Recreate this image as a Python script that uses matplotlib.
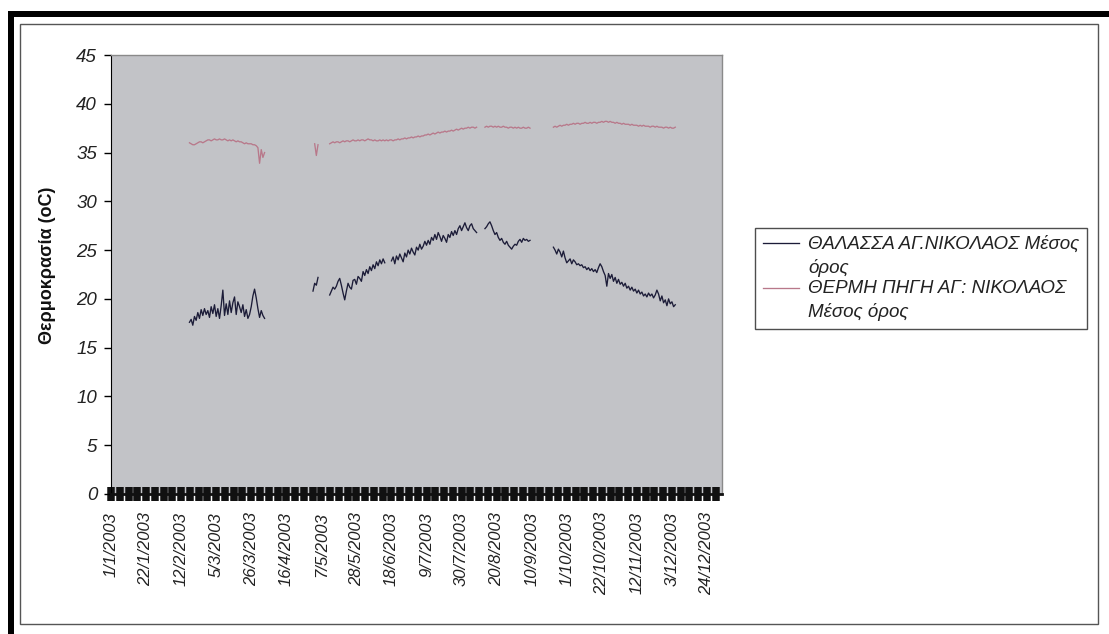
import numpy as np
import pandas as pd
import matplotlib
matplotlib.use("Agg")
import matplotlib.pyplot as plt
import matplotlib.dates as mdates
import matplotlib.ticker as ticker
from matplotlib.patches import Rectangle
from matplotlib.legend_handler import HandlerLine2D

plt.rcParams['font.family'] = ['Liberation Sans', 'DejaVu Sans']

# daily mean temperatures, one list per run of recorded days
# sea, Ag. Nikolaos
sea_feb_start = '2003-02-17'
sea_feb = [17.6, 17.9, 17.3, 18.2, 17.8, 18.6, 18.0, 18.9, 18.3, 19.0, 18.4, 18.8,
           18.1, 19.2, 18.5, 19.4, 18.2, 19.0, 18.0, 19.3, 20.9, 18.3, 19.5, 18.4,
           19.8, 18.6, 19.6, 20.2, 18.4, 19.7, 19.2, 18.6, 19.4, 18.2, 18.9, 18.0,
           18.4, 19.2, 20.3, 21.0, 20.1, 19.0, 18.1, 18.8, 18.3, 18.0]
sea_may_a_start = '2003-05-02'
sea_may_a = [20.8, 21.6, 21.4, 22.2]
sea_may_b_start = '2003-05-12'
sea_may_b = [20.4, 20.8, 21.2, 21.0, 21.3, 21.8, 22.1, 21.4, 20.6, 19.9, 20.8, 21.6,
             21.2, 21.0, 21.9, 22.0, 21.5, 22.3, 22.1, 21.8, 22.8, 22.4, 23.0, 22.6,
             23.3, 22.9, 23.5, 23.1, 23.8, 23.4, 24.0, 23.6, 24.1, 23.7]
sea_jun_start = '2003-06-18'
sea_jun = [23.9, 24.3, 23.6, 24.4, 24.0, 24.6, 24.2, 23.8, 24.7, 24.3, 25.0, 24.6,
           25.2, 24.8, 24.5, 25.3, 25.0, 25.6, 25.1, 25.4, 25.9, 25.5, 26.0, 25.6,
           26.3, 26.0, 26.6, 26.1, 26.8, 26.4, 25.9, 26.5, 26.2, 25.8, 26.6, 26.3,
           26.9, 26.5, 27.0, 26.6, 27.2, 27.5, 27.0, 27.4, 27.8, 27.3, 27.0, 27.5,
           27.7, 27.2, 27.0, 26.8]
sea_aug_start = '2003-08-13'
sea_aug = [27.2, 27.4, 27.7, 27.9, 27.5, 27.0, 26.6, 26.8, 26.3, 26.0, 26.2, 25.8,
           25.6, 25.9, 25.5, 25.3, 25.1, 25.4, 25.6, 25.5, 25.9, 26.1, 25.8, 26.2,
           26.0, 26.1, 25.9, 26.0]
sea_sep_start = '2003-09-23'
sea_sep = [25.3, 25.0, 24.6, 25.1, 24.8, 24.3, 24.9, 24.2, 23.7, 23.9, 24.1, 23.6,
           24.0, 23.8, 23.5, 23.6, 23.4, 23.5, 23.2, 23.3, 23.0, 23.2, 22.9, 23.1,
           22.8, 23.0, 22.7, 23.2, 23.6, 23.3, 22.8, 22.4, 21.3, 22.6, 22.1, 22.5,
           21.8, 22.2, 21.6, 22.0, 21.5, 21.7, 21.3, 21.6, 21.1, 21.3, 20.9, 21.2,
           20.8, 21.0, 20.6, 20.9, 20.5, 20.7, 20.3, 20.5, 20.2, 20.6, 20.3, 20.5,
           20.1, 20.4, 20.9, 20.5, 19.8, 20.3, 19.6, 19.9, 19.3, 20.0, 19.5, 19.7,
           19.2, 19.4]

# hot spring, Ag. Nikolaos
hot_feb_start = '2003-02-17'
hot_feb = [36.0, 35.9, 35.8, 35.8, 35.9, 36.0, 36.1, 36.1, 36.0, 36.1, 36.2, 36.3,
           36.3, 36.2, 36.3, 36.4, 36.3, 36.3, 36.4, 36.3, 36.3, 36.4, 36.3, 36.2,
           36.3, 36.2, 36.3, 36.2, 36.1, 36.2, 36.1, 36.1, 36.0, 35.9, 36.0, 35.9,
           35.9, 35.9, 35.8, 35.8, 35.7, 35.5, 33.9, 35.3, 34.5, 35.0]
hot_may_a_start = '2003-05-03'
hot_may_a = [35.9, 34.7, 35.8]
hot_may_b_start = '2003-05-12'
hot_may_b = [35.9, 36.0, 36.1, 36.0, 36.1, 36.1, 36.0, 36.1, 36.2, 36.1, 36.2, 36.2,
             36.1, 36.2, 36.3, 36.2, 36.2, 36.3, 36.2, 36.3, 36.3, 36.2, 36.3, 36.4,
             36.3, 36.3, 36.2, 36.3, 36.2, 36.2, 36.3, 36.2, 36.3, 36.2, 36.3, 36.2,
             36.3, 36.3, 36.2, 36.3, 36.3, 36.4, 36.3, 36.4, 36.4, 36.5, 36.4, 36.5,
             36.5, 36.6, 36.5, 36.6, 36.6, 36.7, 36.6, 36.7, 36.7, 36.8, 36.8, 36.9,
             36.8, 36.9, 37.0, 36.9, 37.0, 37.1, 37.0, 37.1, 37.1, 37.2, 37.1, 37.2,
             37.2, 37.3, 37.2, 37.3, 37.4, 37.3, 37.4, 37.5, 37.4, 37.5, 37.5, 37.6,
             37.5, 37.6, 37.6, 37.5, 37.6]
hot_aug_start = '2003-08-13'
hot_aug = [37.6, 37.7, 37.6, 37.7, 37.7, 37.6, 37.7, 37.6, 37.7, 37.6, 37.6, 37.7,
           37.6, 37.6, 37.5, 37.6, 37.6, 37.5, 37.6, 37.5, 37.6, 37.5, 37.5, 37.6,
           37.5, 37.5, 37.6, 37.5]
hot_sep_start = '2003-09-23'
hot_sep = [37.6, 37.7, 37.6, 37.7, 37.8, 37.7, 37.8, 37.8, 37.9, 37.8, 37.9, 37.9,
           38.0, 37.9, 38.0, 38.0, 37.9, 38.0, 38.0, 38.1, 38.0, 38.0, 38.1, 38.0,
           38.1, 38.1, 38.0, 38.1, 38.1, 38.2, 38.1, 38.2, 38.2, 38.1, 38.2, 38.1,
           38.1, 38.0, 38.1, 38.0, 38.0, 37.9, 38.0, 37.9, 37.9, 37.9, 37.8, 37.9,
           37.8, 37.8, 37.8, 37.7, 37.8, 37.7, 37.8, 37.7, 37.7, 37.7, 37.6, 37.7,
           37.7, 37.6, 37.7, 37.6, 37.6, 37.6, 37.5, 37.6, 37.6, 37.5, 37.6, 37.5,
           37.5, 37.6]

sea_label = 'ΘΑΛΑΣΣΑ ΑΓ.ΝΙΚΟΛΑΟΣ Μέσος\nόρος'
hot_label = 'ΘΕΡΜΗ ΠΗΓΗ ΑΓ: ΝΙΚΟΛΑΟΣ\nΜέσος όρος'
ylabel = 'Θερμοκρασία (oC)'

year_days = pd.date_range('2003-01-01', '2003-12-31', freq='D')


def daily(parts):
    # join the runs into one daily series, NaN where nothing was logged
    s = pd.concat([pd.Series(v, index=pd.date_range(st, periods=len(v), freq='D'))
                   for st, v in parts])
    return s.reindex(year_days)


class TopLineHandler(HandlerLine2D):
    # put the legend line next to the first text line, not the middle
    def create_artists(self, legend, orig_handle, xdescent, ydescent,
                       width, height, fontsize, trans):
        arts = super().create_artists(legend, orig_handle, xdescent, ydescent,
                                      width, height, fontsize, trans)
        for a in arts:
            a.set_ydata(np.asarray(a.get_ydata()) + 0.68 * fontsize)
        return arts


sea = daily([(sea_feb_start, sea_feb), (sea_may_a_start, sea_may_a),
             (sea_may_b_start, sea_may_b), (sea_jun_start, sea_jun),
             (sea_aug_start, sea_aug), (sea_sep_start, sea_sep)])
hot = daily([(hot_feb_start, hot_feb), (hot_may_a_start, hot_may_a),
             (hot_may_b_start, hot_may_b), (hot_aug_start, hot_aug),
             (hot_sep_start, hot_sep)])

W, H = 1109, 634
fig = plt.figure(figsize=(W / 100, H / 100), dpi=100)
fig.patch.set_facecolor('white')

# frame around the sheet
fig.add_artist(Rectangle((8 / W, 0), 6 / W, 1 - 11 / H, transform=fig.transFigure,
                         facecolor='black', edgecolor='none'))
fig.add_artist(Rectangle((8 / W, 1 - 17 / H), 1 - 8 / W, 6 / H, transform=fig.transFigure,
                         facecolor='black', edgecolor='none'))
fig.add_artist(Rectangle((20 / W, 1 - 624 / H), 1078 / W, 600 / H, transform=fig.transFigure,
                         facecolor='none', edgecolor='#555555', lw=1.0))

ax = fig.add_axes([111 / W, 1 - 494 / H, 611 / W, 439 / H])
ax.set_facecolor('#c2c3c7')

ax.plot(sea.index, sea.values, color='#1c1c38', lw=0.95, label=sea_label)
ax.plot(hot.index, hot.values, color='#b8788a', lw=0.95, label=hot_label)

ax.set_ylim(0, 45)
ax.set_yticks(np.arange(0, 46, 5))
ax.set_xlim(mdates.date2num(pd.Timestamp('2003-01-01')),
            mdates.date2num(pd.Timestamp('2003-12-31')) + 2)

tick_days = pd.date_range('2003-01-01', '2003-12-31', freq='21D')
ax.xaxis.set_major_locator(ticker.FixedLocator(mdates.date2num(tick_days)))
ax.xaxis.set_minor_locator(ticker.FixedLocator(
    mdates.date2num(pd.date_range('2003-01-01', '2004-01-01', freq='126h'))))
ax.xaxis.set_major_formatter(ticker.FuncFormatter(
    lambda x, pos: '{0.day}/{0.month}/{0.year}'.format(mdates.num2date(x))))

for lab in ax.get_xticklabels():
    lab.set_fontstyle('italic')
    lab.set_fontsize(12)
    lab.set_color('#222222')
    lab.set_rotation(90)
for lab in ax.get_yticklabels():
    lab.set_fontstyle('italic')
    lab.set_fontsize(13.5)
    lab.set_color('#222222')

ax.tick_params(axis='x', which='both', direction='inout', length=10, width=5.4,
               color='#111111', pad=8)
ax.tick_params(axis='y', direction='out', length=5, width=1, color='black', pad=5)

ax.spines['left'].set_color('black')
ax.spines['bottom'].set_color('#111111')
ax.spines['bottom'].set_linewidth(2)
for side in ('top', 'right'):
    ax.spines[side].set_color('#8a8a8a')
    ax.spines[side].set_linewidth(1.0)

ax.set_ylabel(ylabel, fontsize=13, fontweight='bold', color='#111111')
ax.yaxis.set_label_coords(-0.09, 0.52)

leg = ax.legend(loc='upper left', bbox_to_anchor=(755 / W, 1 - 228 / H),
                bbox_transform=fig.transFigure, borderaxespad=0, frameon=True,
                fancybox=False, edgecolor='#222222', handlelength=1.95,
                handletextpad=0.5, borderpad=0.4, labelspacing=0.2,
                handler_map={matplotlib.lines.Line2D: TopLineHandler()},
                prop={'style': 'italic', 'size': 13.5})
leg.get_frame().set_linewidth(1.0)
for t in leg.get_texts():
    t.set_linespacing(1.42)
    t.set_color('#222222')

fig.savefig('out.png', dpi=100, facecolor='white')
